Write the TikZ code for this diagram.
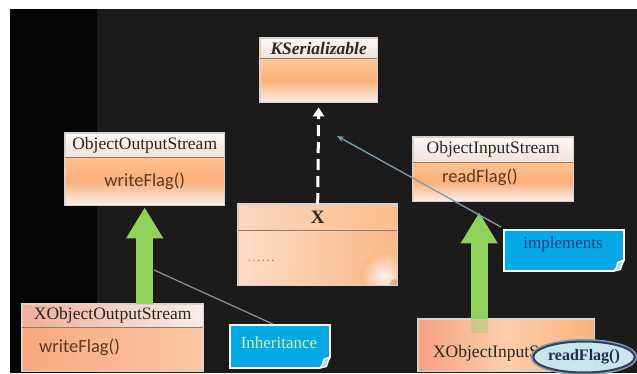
\documentclass[tikz,border=0pt]{standalone}
\usepackage{fontspec}
\setmainfont{Liberation Serif}
\newfontfamily\opfont{Carlito}
\usetikzlibrary{arrows.meta,shapes.geometric}

% palette
\definecolor{pagebg}{HTML}{1B1B1B}
\definecolor{sidebar}{HTML}{040404}
\definecolor{boxline}{HTML}{D6D2CE}
\definecolor{sepline}{HTML}{8E7D6E}
\definecolor{hdtop}{HTML}{FCF8F6}
\definecolor{hdbot}{HTML}{F0E2D9}
\definecolor{orA}{HTML}{FCC08E}
\definecolor{orB}{HTML}{FBB07A}
\definecolor{orLight}{HTML}{FDCB9E}
\definecolor{peach}{HTML}{FDEEE8}
\definecolor{nametxt}{HTML}{2B2622}
\definecolor{optxt}{HTML}{5A3A22}
\definecolor{xhdL}{HTML}{FBD6BE}
\definecolor{xhdR}{HTML}{FCBE8C}
\definecolor{xbdL}{HTML}{FCDCC8}
\definecolor{xbdR}{HTML}{FBB884}
\definecolor{xglow}{HTML}{FFF1EC}
\definecolor{xspot}{HTML}{D9955F}
\definecolor{dots}{HTML}{C07A3C}
\definecolor{xohL}{HTML}{F2AE98}
\definecolor{xohR}{HTML}{F7EEEA}
\definecolor{xobL}{HTML}{FAA87E}
\definecolor{xobR}{HTML}{FBC8A2}
\definecolor{xibL}{HTML}{F6A283}
\definecolor{xibR}{HTML}{FBB37D}
\definecolor{xibM}{HTML}{FCCEAA}
\definecolor{arrowgreen}{HTML}{8ED25B}
\definecolor{notecyan}{HTML}{05A9E8}
\definecolor{notecurl}{HTML}{A6E0F6}
\definecolor{inhtxt}{HTML}{CFF391}
\definecolor{impltxt}{HTML}{1C3E86}
\definecolor{linkgray}{HTML}{8A8A8A}
\definecolor{linkblue}{HTML}{7E9DAE}
\definecolor{ovalfill}{HTML}{C8E7EC}
\definecolor{ovalline}{HTML}{34405C}
\definecolor{ovalhalo}{HTML}{8A95B5}
\definecolor{ovaltxt}{HTML}{1F2D48}

\newcommand\namefont{\fontsize{17.5}{20}\selectfont}
\newcommand\opsize{\opfont\fontsize{18.5}{21}\selectfont}

% page curl at the lower right corner of a note
\newcommand\pagecurl[1]{%
  \fill[pagebg] ([xshift=-12pt]#1.south east) -- ([xshift=1.5pt,yshift=-1.5pt]#1.south east)
    -- ([yshift=12pt]#1.south east) -- cycle;
  \filldraw[draw=white, line width=1.2pt, fill=notecurl, line join=round]
    ([xshift=-12pt]#1.south east) .. controls ([xshift=-8pt,yshift=3pt]#1.south east) ..
    ([xshift=-7pt,yshift=9pt]#1.south east) -- ([yshift=12pt]#1.south east)
    .. controls ([xshift=-2pt,yshift=8pt]#1.south east) .. ([xshift=-4pt,yshift=2pt]#1.south east)
    -- cycle;}

\tikzset{
  hdr/.style={anchor=north west, inner sep=0pt, top color=hdtop, bottom color=hdbot,
    font=\namefont, text=nametxt},
  bdy/.style={anchor=north west, inner sep=0pt, top color=orA, bottom color=peach,
    middle color=orB, font=\opsize, text=optxt},
  frame/.style={draw=boxline, line width=1.4pt},
  sep/.style={draw=sepline, line width=1pt},
  optext/.style={font=\opsize, text=optxt, inner sep=0pt},
  greenarrow/.style={draw=arrowgreen, line width=17pt,
    -{Triangle[width=35pt,length=31pt]}},
  realize/.style={draw=white, line width=3pt, dash pattern=on 11pt off 6pt,
    -{Triangle[width=11pt,length=9pt]}},
  note/.style={anchor=north west, inner sep=0pt, fill=notecyan, draw=white, line width=1.5pt},
  notetext/.style={font=\fontsize{17}{20}\selectfont, inner sep=0pt},
}

\begin{document}
\begin{tikzpicture}[x=1pt, y=-1pt]
\useasboundingbox (0,0) rectangle (637,373);

% backdrop
\fill[white] (0,0) rectangle (637,373);
\fill[sidebar] (10,9) rectangle (637,373);
\fill[pagebg] (97,9) rectangle (637,373);

% KSerializable
\node[hdr, minimum width=117pt, minimum height=20pt] (ksH) at (260,38) {\bfseries\itshape KSerializable};
\node[bdy, minimum width=117pt, minimum height=44pt, top color=orLight, bottom color=peach, middle color=orB] (ksB) at (260,58) {};
\draw[frame] (ksH.north west) rectangle (ksB.south east);
\draw[sep] (ksH.south west) -- (ksH.south east);

% ObjectOutputStream
\node[hdr, minimum width=159pt, minimum height=24pt] (oosH) at (65,133) {ObjectOutputStream};
\node[bdy, minimum width=159pt, minimum height=48pt] (oosB) at (65,157) {writeFlag()};
\draw[frame] (oosH.north west) rectangle (oosB.south east);
\draw[sep] (oosH.south west) -- (oosH.south east);

% ObjectInputStream
\node[hdr, minimum width=160pt, minimum height=25pt] (oisH) at (413,137) {ObjectInputStream};
\node[bdy, minimum width=160pt, minimum height=39pt] (oisB) at (413,162) {};
\node[optext, anchor=west] (oisOp) at (442,177) {readFlag()};
\draw[frame] (oisH.north west) rectangle (oisB.south east);
\draw[sep] (oisH.south west) -- (oisH.south east);

% X
\node[hdr, minimum width=159pt, minimum height=26pt, left color=xhdL, right color=xhdR,
  font=\fontsize{19}{20}\selectfont\bfseries] (xH) at (238,204) {X};
\node[bdy, minimum width=159pt, minimum height=55pt, left color=xbdL, right color=xbdR] (xB) at (238,230) {};
\begin{scope}
  \clip (xB.north west) rectangle (xB.south east);
  \shade[inner color=xglow, outer color=xbdR] (384,276) circle (24pt);
  \fill[xspot, opacity=0.6] (395,284) circle (5pt);
\end{scope}
\node[font=\fontsize{14}{16}\selectfont, text=dots, inner sep=0pt, anchor=west] (xDots) at (247,261) {……};
\draw[frame] (xH.north west) rectangle (xB.south east);
\draw[sep] (xH.south west) -- (xH.south east);

% XObjectOutputStream
\node[hdr, minimum width=181pt, minimum height=23pt, left color=xohL, right color=xohR] (xoosH) at (22,304) {XObjectOutputStream};
\node[bdy, minimum width=181pt, minimum height=44pt, left color=xobL, right color=xobR] (xoosB) at (22,327) {};
\node[optext, anchor=west] (xoosOp) at (39,347) {writeFlag()};
\draw[frame] (xoosH.north west) rectangle (xoosB.south east);
\draw[sep] (xoosH.south west) -- (xoosH.south east);

% XObjectInputStream
\node[bdy, minimum width=176pt, minimum height=52pt, left color=xibL, right color=xibR,
  middle color=xibM] (xoisB) at (418,319) {};
\node[font=\namefont, text=nametxt, inner sep=0pt] (xoisName) at (506,353) {XObjectInputStream};
\draw[frame] (xoisB.north west) rectangle (xoisB.south east);

% generalisation arrows
\draw[greenarrow, shorten >=2pt] (oosB.south |- xoosH.north) -- (oosB.south);
\draw[greenarrow, shorten >=11pt] ([xshift=-14pt]oisB.south |- xoisB.north) -- ([xshift=-14pt]oisB.south);
\fill[arrowgreen, opacity=0.35] ([xshift=-22.5pt]oisB.south |- xoisB.north) rectangle ([xshift=-5.5pt,yshift=-14pt]oisB.south |- xoisB.north);

% realisation arrow
\draw[realize, shorten >=5pt] (xH.north) -- (ksB.south);

% notes
\node[note, minimum width=120pt, minimum height=41pt] (implNote) at (503,229) {};
\node[notetext, text=impltxt] (implLbl) at (563,244) {implements};
\pagecurl{implNote}
\node[note, minimum width=100pt, minimum height=43pt] (inhNote) at (229,324) {};
\node[notetext, text=inhtxt] (inhLbl) at (279,343) {Inheritance};
\pagecurl{inhNote}

% note links
\coordinate (implTip) at (337,136);
\coordinate (inhTip) at (154,270);
\draw[linkblue, line width=1.3pt, -{Stealth[length=7pt,width=6pt]}]
  ([xshift=-2pt,yshift=2pt]implNote.north west) -- (implTip);
\draw[linkgray, line width=1.3pt] ([xshift=-7pt]inhNote.north) -- (inhTip);

% operation callout
\node[ellipse, draw=ovalline, line width=2pt, fill=ovalfill,
  preaction={draw=ovalhalo, line width=5pt},
  minimum width=96pt, minimum height=31pt, inner sep=0pt,
  font=\fontsize{16}{18}\selectfont\bfseries, text=ovaltxt] (rfOval) at (584,357) {readFlag()};
\end{tikzpicture}
\end{document}
